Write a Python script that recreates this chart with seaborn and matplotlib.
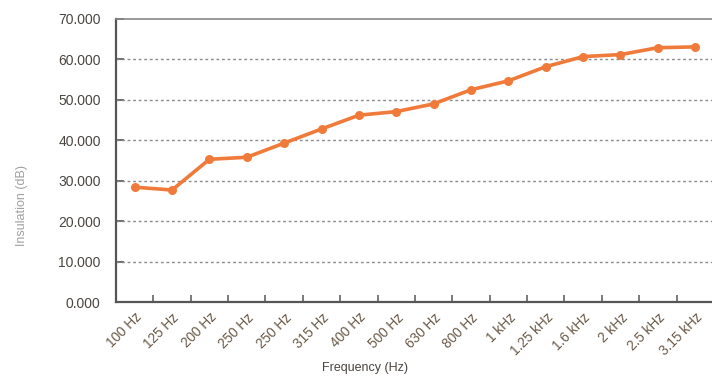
import numpy as np
import pandas as pd
import matplotlib
matplotlib.use("Agg")
import matplotlib.pyplot as plt
from matplotlib.ticker import FixedLocator, FormatStrFormatter
import seaborn as sns

bands = ["100 Hz", "125 Hz", "200 Hz", "250 Hz", "250 Hz", "315 Hz", "400 Hz",
         "500 Hz", "630 Hz", "800 Hz", "1 kHz", "1.25 kHz", "1.6 kHz", "2 kHz",
         "2.5 kHz", "3.15 kHz"]
insulation_db = [28.4, 27.7, 35.3, 35.8, 39.3, 42.8, 46.2, 47.1, 49.0, 52.5,
                 54.7, 58.2, 60.7, 61.2, 62.9, 63.1]
y_ticks = [0, 10, 20, 30, 40, 50, 60, 70]

sns.set_theme(style="white")
plt.rcParams["font.family"] = ["Liberation Sans", "DejaVu Sans"]

df = pd.DataFrame({"pos": np.arange(len(bands)), "db": insulation_db})

fig = plt.figure(figsize=(7.12, 3.76), dpi=100)
ax = fig.add_axes([116 / 712, 1 - 302 / 376, 596 / 712, 283 / 376])

sns.lineplot(data=df, x="pos", y="db", ax=ax, sort=False, color="#f07a3a",
             linewidth=2.6, marker="o", markersize=6.5, markeredgewidth=0,
             zorder=3)

ax.set_ylim(0, 70)
ax.set_xlim(-0.5, 15.45)
ax.yaxis.set_major_locator(FixedLocator(y_ticks))
ax.yaxis.set_major_formatter(FormatStrFormatter("%.3f"))
ax.tick_params(axis="y", direction="in", length=6, width=1.2, color="#555555",
               labelsize=10, labelcolor="#4a4540", pad=11, left=True)

# category labels at centres, tick marks at the boundaries
ax.set_xticks(np.arange(len(bands)))
ax.set_xticklabels(bands, rotation=45, ha="right", va="top",
                   rotation_mode="anchor", fontsize=9.8, color="#6a5a48")
ax.tick_params(axis="x", which="major", length=0, pad=6)
ax.xaxis.set_minor_locator(FixedLocator(np.arange(len(bands)) + 0.5))
ax.tick_params(axis="x", which="minor", direction="in", length=5, width=1.1,
               color="#555555", bottom=True)

for v in y_ticks[1:-1]:
    ax.axhline(v, color="#8a8a8a", linewidth=1.0, linestyle=(0, (2, 2)),
               zorder=1)

for side in ["left", "bottom"]:
    ax.spines[side].set_color("#555555")
    ax.spines[side].set_linewidth(1.6)
ax.spines["top"].set_color("#888888")
ax.spines["top"].set_linewidth(1.2)
ax.spines["right"].set_visible(False)

ax.set_xlabel("")
ax.set_ylabel("")
fig.text(365 / 712, 1 - 368 / 376, "Frequency (Hz)", ha="center",
         va="center", fontsize=9, color="#4a4540")
fig.text(22 / 712, 1 - 206 / 376, "Insulation (dB)", ha="center",
         va="center", rotation=90, fontsize=9, color="#a0a0a0")

fig.savefig("out.png", dpi=100, facecolor="white")
